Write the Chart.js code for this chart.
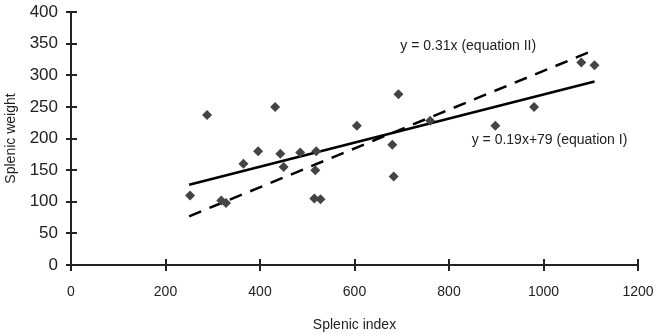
<!DOCTYPE html>
<html>
<head>
<meta charset="utf-8">
<script src="https://cdn.jsdelivr.net/npm/chart.js@4/dist/chart.umd.min.js"></script>
<style>
  html, body { margin: 0; padding: 0; background: #fff; }
  #wrap { width: 658px; height: 336px; }
</style>
</head>
<body>
<div id="wrap"><canvas id="myChart" width="658" height="336"></canvas></div>
<script>
// Splenic index vs splenic weight
const splenicIndex = [252, 288, 318, 328, 365, 396, 432, 443, 450, 485, 519, 517, 515, 528, 605, 693, 680, 683, 760, 898, 980, 1080, 1108];
const splenicWeight = [110, 237, 102, 98, 160, 180, 250, 176, 155, 178, 180, 150, 105, 104, 220, 270, 190, 140, 228, 220, 250, 320, 316];

// regression lines (end points)
const lineX = [250, 1108];
const lineI = [127, 290];   // y = 0.19x+79
const lineII = [77, 340];   // y = 0.31x

const xTicks = [0, 200, 400, 600, 800, 1000, 1200];
const yTicks = [0, 50, 100, 150, 200, 250, 300, 350, 400];

const labelI = "y = 0.19x+79 (equation I)";
const labelII = "y = 0.31x (equation II)";

// tick marks that cross the axis + equation labels
const axisExtras = {
  id: "axisExtras",
  afterDraw(chart) {
    const c = chart.ctx;
    const xs = chart.scales.x, ys = chart.scales.y;
    const area = chart.chartArea;
    c.save();
    c.strokeStyle = "#222";
    c.lineWidth = 2;
    xTicks.forEach(v => {
      const px = Math.round(xs.getPixelForValue(v));
      c.beginPath();
      c.moveTo(px, area.bottom - 6);
      c.lineTo(px, area.bottom + 6);
      c.stroke();
    });
    yTicks.forEach(v => {
      const py = Math.round(ys.getPixelForValue(v));
      c.beginPath();
      c.moveTo(area.left - 5, py);
      c.lineTo(area.left + 6, py);
      c.stroke();
    });
    c.fillStyle = "#222";
    c.font = "14px 'Liberation Sans', Arial, sans-serif";
    c.textBaseline = "middle";
    c.textAlign = "left";
    c.fillText(labelII, xs.getPixelForValue(697), ys.getPixelForValue(346));
    c.fillText(labelI, xs.getPixelForValue(848), ys.getPixelForValue(198));
    c.restore();
  }
};

const ctx1 = document.getElementById("myChart").getContext("2d");
const myChart = new Chart(ctx1, {
  type: "scatter",
  data: {
    datasets: [
      {
        label: "data",
        data: splenicIndex.map((x, i) => ({ x: x, y: splenicWeight[i] })),
        pointStyle: "rectRot",
        pointRadius: 5,
        backgroundColor: "#444",
        borderColor: "#444",
        borderWidth: 0,
      },
      {
        label: "equation I",
        data: lineX.map((x, i) => ({ x: x, y: lineI[i] })),
        showLine: true,
        borderColor: "#000",
        borderWidth: 2.5,
        pointRadius: 0,
      },
      {
        label: "equation II",
        data: lineX.map((x, i) => ({ x: x, y: lineII[i] })),
        showLine: true,
        borderColor: "#000",
        borderWidth: 2.5,
        borderDash: [13, 9],
        pointRadius: 0,
      },
    ],
  },
  options: {
    responsive: false,
    animation: false,
    layout: { padding: { left: 0, right: 20, top: 12, bottom: 0 } },
    plugins: {
      legend: { display: false },
      tooltip: { enabled: false },
    },
    scales: {
      x: {
        type: "linear",
        min: 0,
        max: 1200,
        afterBuildTicks: s => { s.ticks = xTicks.map(v => ({ value: v })); },
        afterFit: s => { s.height = 71; s.paddingLeft = 0; s.paddingRight = 0; },
        grid: { display: false, drawTicks: false },
        border: { display: true, color: "#222", width: 2 },
        ticks: {
          padding: 19,
          color: "#222",
          callback: v => String(v),
          font: { family: "'Liberation Sans', Arial, sans-serif", size: 14 },
        },
        title: {
          display: true,
          text: "Splenic index",
          color: "#222",
          font: { family: "'Liberation Sans', Arial, sans-serif", size: 14 },
          padding: { top: 0, bottom: 2 },
        },
      },
      y: {
        type: "linear",
        min: 0,
        max: 400,
        afterBuildTicks: s => { s.ticks = yTicks.map(v => ({ value: v })); },
        afterFit: s => { s.width = 71; s.paddingTop = 0; s.paddingBottom = 0; },
        grid: { display: false, drawTicks: false },
        border: { display: true, color: "#222", width: 2 },
        ticks: {
          padding: 13,
          color: "#222",
          callback: v => String(v),
          font: { family: "'Liberation Sans', Arial, sans-serif", size: 17 },
        },
        title: {
          display: true,
          text: "Splenic weight",
          color: "#222",
          font: { family: "'Liberation Sans', Arial, sans-serif", size: 14 },
          padding: { top: 3, bottom: 0 },
        },
      },
    },
  },
  plugins: [axisExtras],
});
</script>
</body>
</html>
